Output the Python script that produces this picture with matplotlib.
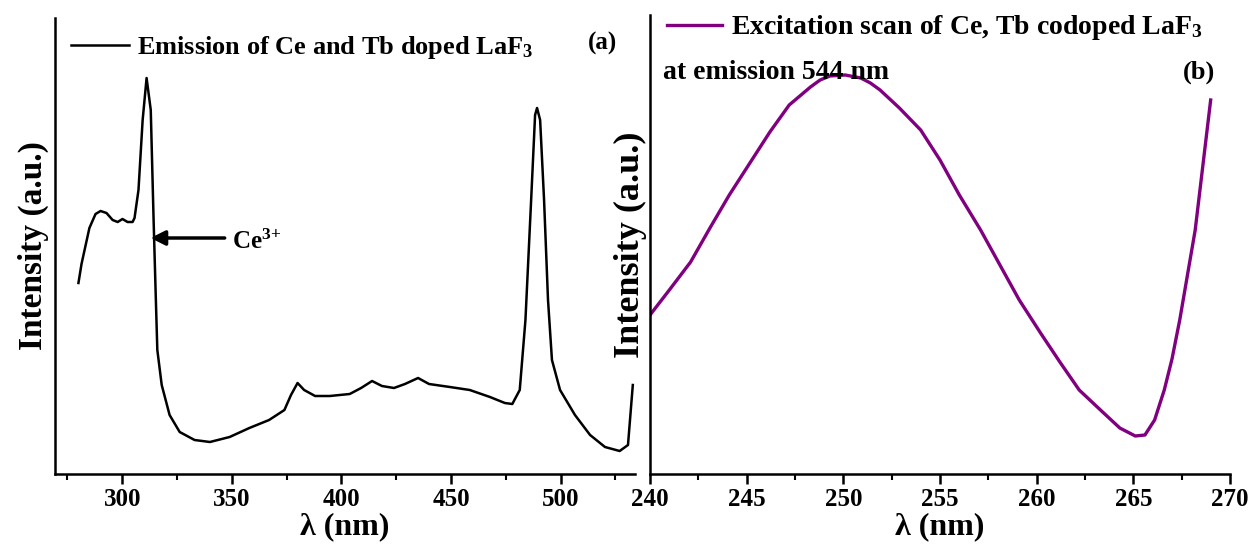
import matplotlib
matplotlib.use('Agg')
import matplotlib.pyplot as plt
from matplotlib.ticker import MultipleLocator, NullLocator

plt.rcParams['font.family'] = ['Liberation Serif', 'DejaVu Serif']
plt.rcParams['font.weight'] = 'bold'
plt.rcParams['mathtext.fontset'] = 'custom'
plt.rcParams['mathtext.rm'] = 'Liberation Serif:bold'
plt.rcParams['mathtext.bf'] = 'Liberation Serif:bold'
plt.rcParams['mathtext.default'] = 'rm'

# (a) emission spectrum, Ce and Tb doped LaF3
em_wl = [280.0, 281.4, 282.8, 285.0, 287.8, 290.1, 292.8, 295.6, 297.9, 300.1, 302.4, 304.7,
         305.6, 307.4, 309.3, 311.1, 313.0, 314.3, 315.2, 316.0, 318.0, 321.6, 326.2,
         333.0, 340.0, 349.0, 358.0, 367.0, 374.0, 377.0, 380.0, 383.0, 388.0, 394.7,
         403.8, 409.0, 414.0, 418.5, 424.0, 429.0, 435.0, 440.0, 449.5, 458.6, 467.8,
         474.6, 478.0, 481.4, 484.0, 486.6, 488.4, 489.3, 490.7, 492.5, 494.3, 496.1,
         499.8, 506.6, 513.5, 520.3, 527.0, 530.8, 533.0]
em_int = [191, 210, 224, 246, 260, 263, 261, 254, 252, 255, 252, 252,
          256, 284, 354, 396, 364, 254, 184, 124, 89, 59, 42,
          34, 32, 37, 46, 54, 64, 79, 91, 84, 78, 78,
          80, 86, 93, 88, 86, 90, 96, 90, 87, 84, 77,
          71, 70, 84, 154, 274, 359, 366, 354, 274, 174, 114,
          84, 59, 39, 27, 23, 29, 89]

# (b) excitation scan at emission 544 nm
ex_wl = [240.0, 241.0, 242.1, 243.1, 244.1, 245.2, 246.2, 247.2, 248.3, 248.8, 249.3, 250.1,
         250.9, 251.4, 251.9, 252.9, 254.0, 255.0, 256.0, 257.1, 258.1, 259.1, 260.2, 261.2,
         262.2, 263.3, 264.3, 264.8, 265.1, 265.6, 266.1, 266.6, 267.0, 267.4, 268.2, 269.0]
ex_int = [159, 184, 212, 246, 279, 312, 342, 369, 387, 394, 398, 399,
          396, 391, 384, 366, 344, 314, 279, 244, 209, 174, 141, 112,
          84, 64, 46, 41, 38, 39, 54, 84, 115, 154, 244, 374]

fig = plt.figure(figsize=(12.54, 5.5), dpi=100)
ax1 = fig.add_axes([55 / 1254, 76 / 550, 580 / 1254, 456 / 550])
ax2 = fig.add_axes([650 / 1254, 76 / 550, 580 / 1254, 459 / 550])

for ax in (ax1, ax2):
    ax.spines['top'].set_visible(False)
    ax.spines['right'].set_visible(False)
    ax.spines['left'].set_linewidth(1.8)
    ax.spines['bottom'].set_linewidth(1.8)
    ax.yaxis.set_major_locator(NullLocator())
    ax.yaxis.set_minor_locator(NullLocator())
    ax.tick_params(axis='x', which='major', direction='out', length=7, width=1.8,
                   labelsize=18, pad=3)
    ax.tick_params(axis='x', which='minor', direction='out', length=4, width=1.5)
    ax.set_xlabel('λ (nm)', fontsize=23, fontweight='bold', labelpad=1)

ax1.set_ylabel('Intensity (a.u.)', fontsize=24, fontweight='bold', labelpad=4)
ax2.set_ylabel('Intensity (a.u.)', fontsize=26, fontweight='bold', labelpad=2)

ax1.plot(em_wl, em_int, color='black', lw=1.8,
         label='Emission of Ce and Tb doped LaF$_3$')
ax1.set_xlim(269.3, 534)
ax1.set_ylim(0, 456)
ax1.xaxis.set_major_locator(MultipleLocator(50))
ax1.xaxis.set_minor_locator(MultipleLocator(25))
ax1.legend(loc='upper left', bbox_to_anchor=(0.0, 1.0), frameon=False, fontsize=19,
           handlelength=2.2, handletextpad=0.3, borderaxespad=0.2)
ax1.text(0.97, 0.945, '(a)', transform=ax1.transAxes, fontsize=18, ha='right', va='center')
ax1.annotate('', xy=(311.6, 236), xytext=(348, 236),
             arrowprops=dict(arrowstyle='-|>', color='black', lw=2.5, mutation_scale=22))
ax1.text(350, 232, 'Ce$^{3{+}}$', fontsize=18, ha='left', va='center')

ax2.plot(ex_wl, ex_int, color='#800080', lw=2.4,
         label='Excitation scan of Ce, Tb codoped LaF$_3$')
ax2.set_xlim(240, 270)
ax2.set_ylim(0, 459)
ax2.xaxis.set_major_locator(MultipleLocator(5))
ax2.xaxis.set_minor_locator(MultipleLocator(2.5))
ax2.legend(loc='upper left', bbox_to_anchor=(0.0, 1.04), frameon=False, fontsize=20,
           handlelength=2.0, handletextpad=0.3, borderaxespad=0.2)
ax2.text(0.022, 0.875, 'at emission 544 nm', transform=ax2.transAxes, fontsize=20,
         ha='left', va='center')
ax2.text(0.975, 0.875, '(b)', transform=ax2.transAxes, fontsize=19, ha='right', va='center')

fig.savefig('out.png', dpi=100)
